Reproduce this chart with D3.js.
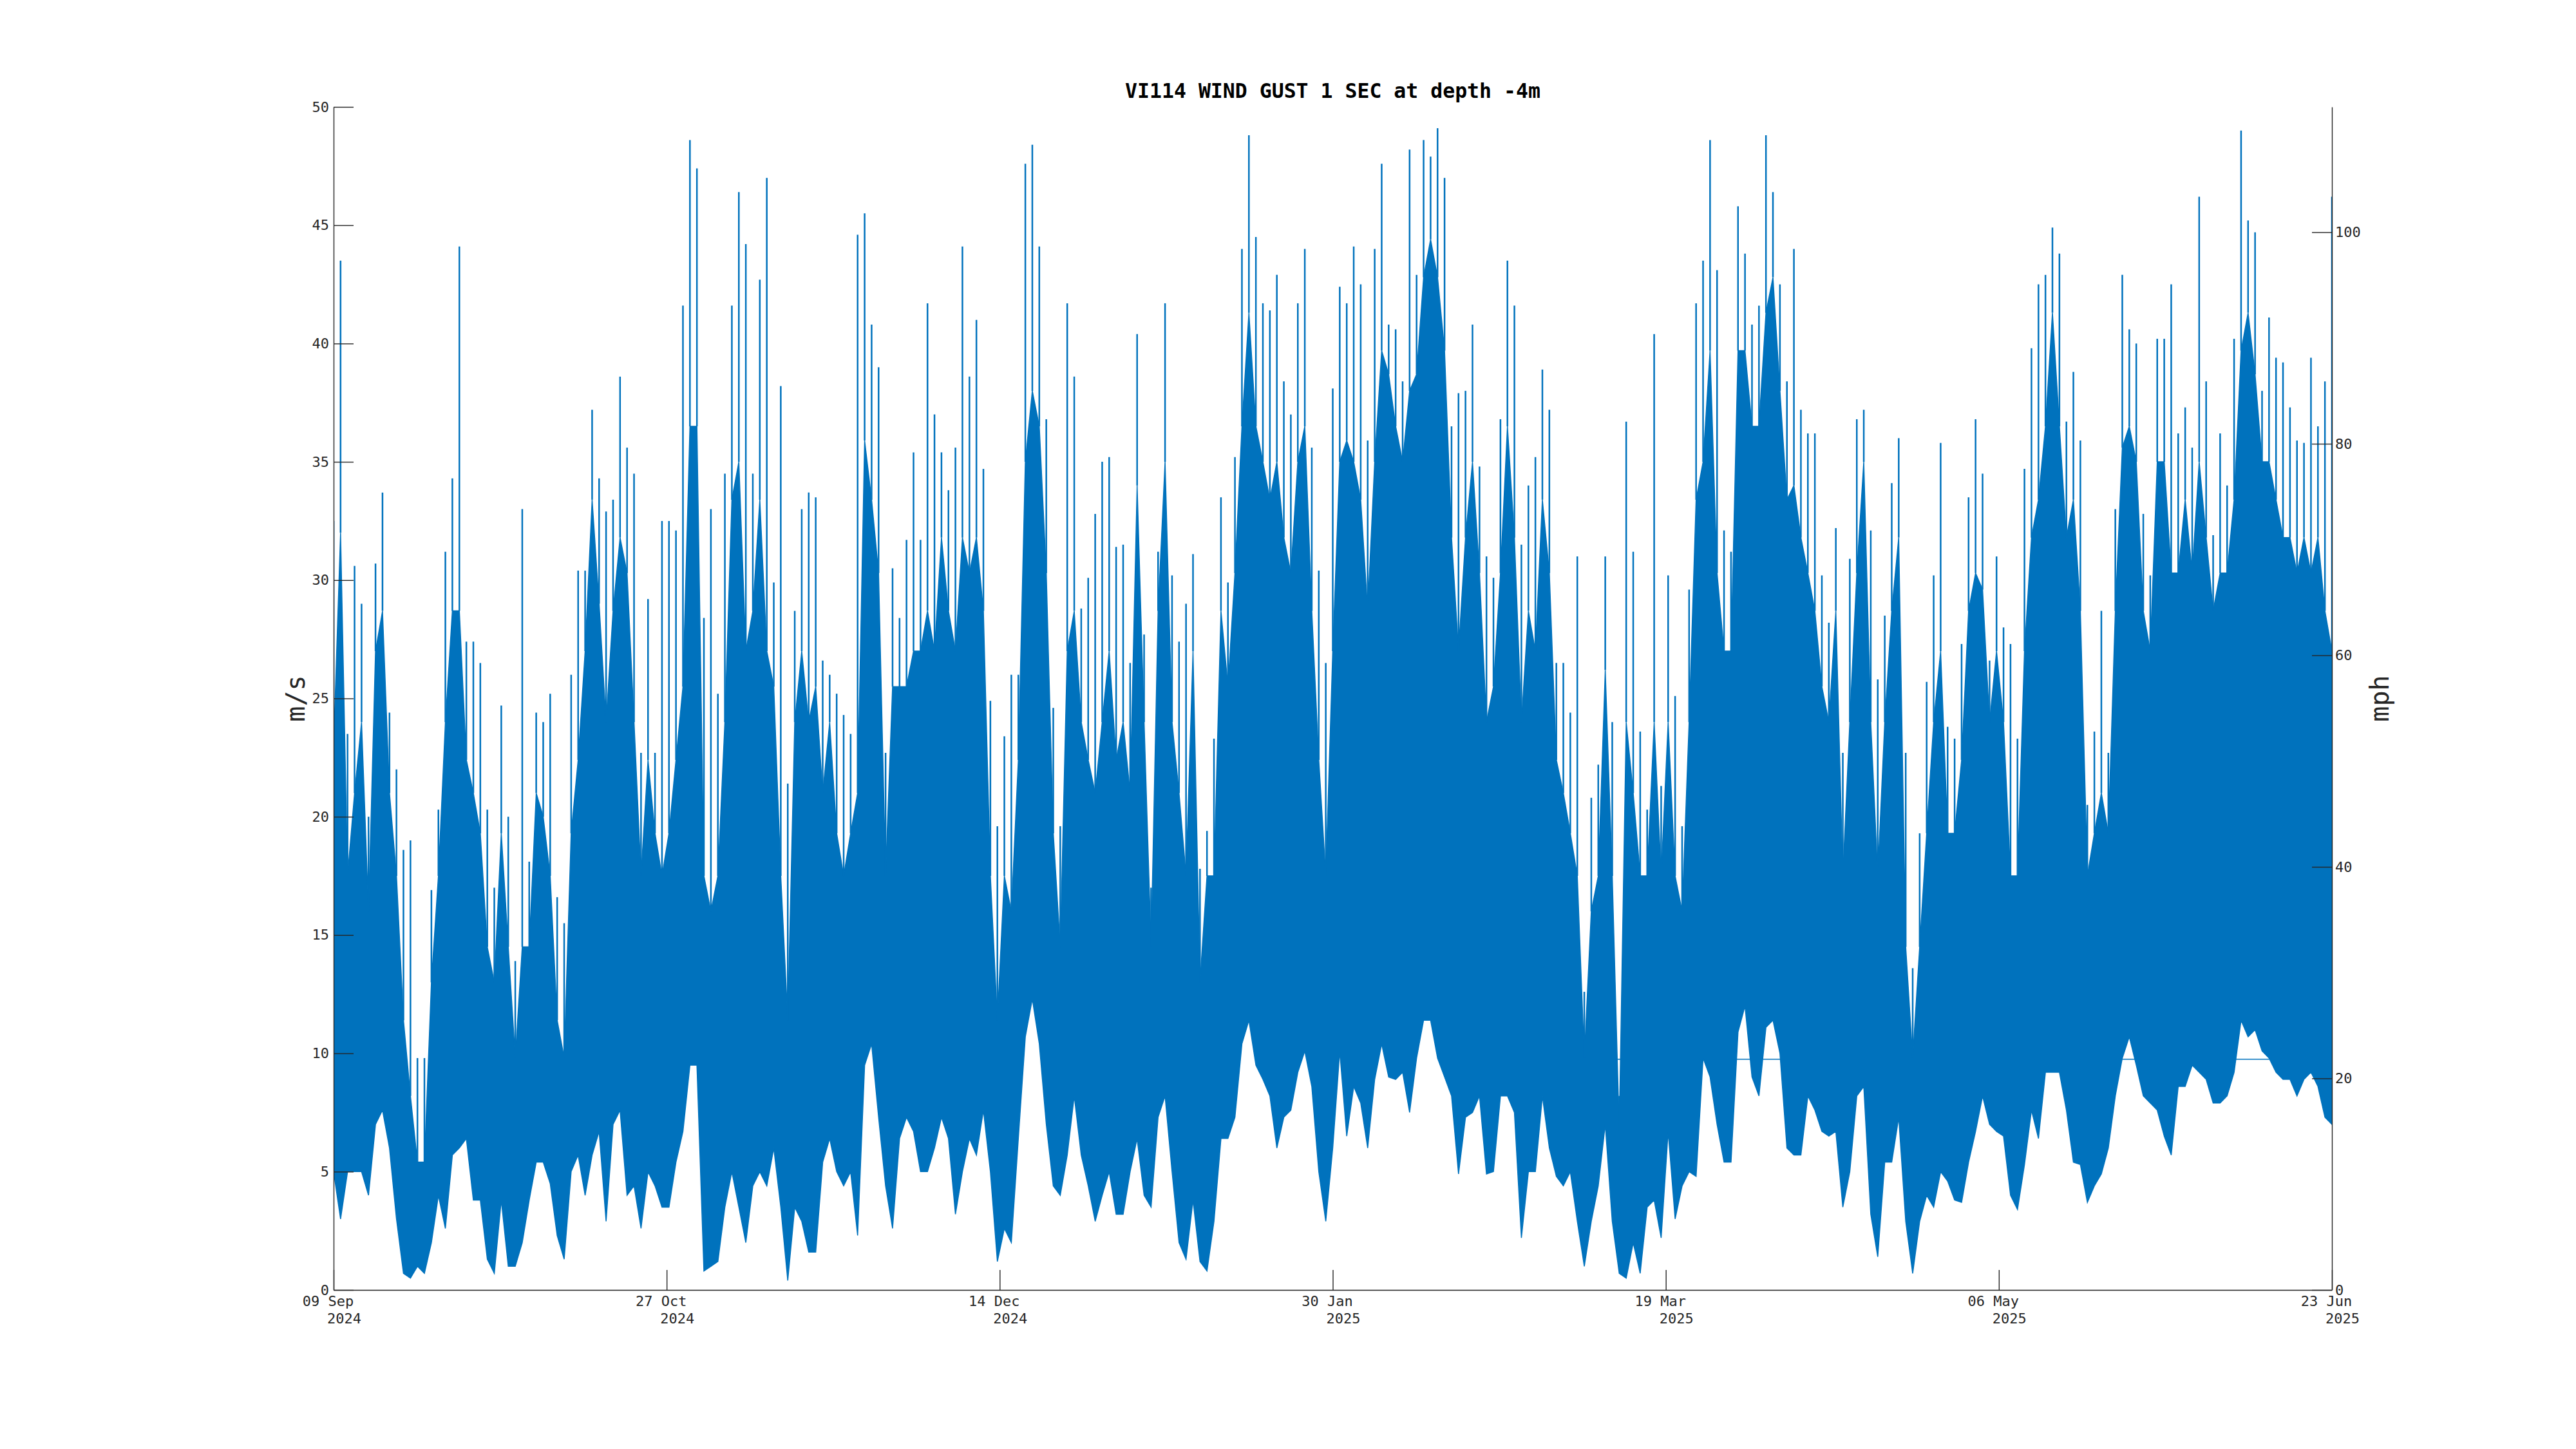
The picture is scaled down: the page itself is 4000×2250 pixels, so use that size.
<!DOCTYPE html>
<html>
<head>
<meta charset="utf-8">
<script src="https://cdn.jsdelivr.net/npm/d3@7/dist/d3.min.js"></script>
<style>
  html, body { margin: 0; padding: 0; background: #ffffff; }
  svg { display: block; }
</style>
</head>
<body>
<svg id="chart" width="4000" height="2250"></svg>
<script>
// ---------------- DATA ----------------
const titleText = "VI114 WIND GUST 1 SEC at depth -4m";
const leftLabel = "m/s";
const rightLabel = "mph";
const startDate = "2024-09-09";
const endDate = "2025-06-23";

// Daily peak gust (m/s), one value per day from 09 Sep 2024
const dailyMax = [
 32.5,43.5,23.5,30.6,29,20,30.7,33.7,24.4,22,18.6,19,9.8,9.8,16.9,20.3,31.2,34.3,44.1,27.4,
 27.4,26.5,20.3,17,24.7,20,13.9,33,18.1,24.4,24,25.2,16.6,15.5,26,30.4,30.4,37.2,34.3,32.9,
 33.4,38.6,35.6,34.5,22.7,29.2,22.7,32.5,32.5,32.1,41.6,48.6,47.4,28.4,33,25.2,34.5,41.6,46.4,44.2,
 34.5,42.7,47,29.9,38.2,21.4,28.7,33,33.7,33.5,26.6,26,25.2,24.3,23.5,44.6,45.5,40.8,39,22.7,
 30.5,28.4,31.7,35.4,31.7,41.7,37,35.4,33.8,35.6,44.1,38.6,41,34.7,24.9,19.6,23.4,26,26,47.6,
 48.4,44.1,36.8,24.6,19.6,41.7,38.6,28.8,30.1,32.8,35,35.2,31.4,31.5,26.5,40.4,27.7,17,31.2,41.7,
 30.2,27.4,29,31.1,17.8,19.4,23.3,33.5,29.9,35.2,44,48.8,44.5,41.7,41.4,42.9,38.4,37,41.7,44,
 35.6,30.4,26.5,38.1,42.4,41.7,44.1,42.5,35.9,44,47.6,40.8,40.6,38.4,48.2,42.9,48.6,47.9,49.1,47,
 36.5,37.9,38,40.8,34.8,31,30.1,36.8,43.5,41.6,31.5,34,35.2,38.9,37.2,26.5,26.5,24.4,31,12.6,
 20.8,22.2,31,24,8.2,36.7,31.2,23.6,20.3,40.4,21.3,30.2,25.1,19.6,29.6,41.7,43.5,48.6,43.1,32.1,
 31.2,45.8,43.8,40.8,41.6,48.8,46.4,42.5,38.4,44,37.2,36.2,36.2,30.2,28.2,32.2,22.7,30.9,36.8,37.2,
 32.1,25.8,28.5,34.1,36,22.7,13.6,19.3,25.7,30.2,35.8,23.8,23.3,27.3,33.5,36.8,34.5,26.6,31,28,
 27.3,23.3,34.7,39.8,42.5,42.9,44.9,43.8,36.7,38.8,35.9,20.5,23.6,28.7,22.7,33,42.9,40.6,40,32.8,
 30.2,40.2,40.2,42.5,36.2,37.3,35.6,46.2,38.4,31.9,36.2,34,40.2,49,45.2,44.7,38,41.1,39.4,39.2,
 37.3,35.9,35.8,39.4,36.5,38.4,46.2
];

// Daily top of the dense gust band (m/s)
const dailyBody = [
 23,32,17.5,21,24,16,27,28.7,21,17.5,11.4,8.2,5.4,5.4,13,17.5,24,28.7,28.7,22.4,
 21,19.3,14.5,13,19.3,14.5,9.8,14.5,14.5,21,20,17.5,11.4,9.8,19.3,22.4,27,33.4,29,24,
 28.7,31.8,30.3,24,17.5,22.4,19.3,17.5,19.3,22.4,25.5,36.5,36.5,17.5,16,17.5,24,33.4,35,27,
 28.7,33.4,27,25.5,17.5,11.4,24,27,24,25.5,21,24,19.3,17.5,19.3,21,35.9,33.4,30.3,17.5,
 25.5,25.5,25.5,27,27,28.7,27,31.8,28.7,27,31.8,30.3,31.8,28.7,17.5,11.4,17.5,16,22.4,35,
 38,36.5,30.3,19.3,14.5,27,28.7,24,22.4,21,24,27,22.4,24,21,34,24,14.5,28.7,35,
 24,21,17.5,27,13,17.5,17.5,28.7,25.5,30.3,36.5,41.3,36.5,35,33.4,35,31.8,30.3,35,36.5,
 28.7,22.4,17.5,27,35,35.9,35,33.4,28.7,35,39.7,38.7,36.5,35,38,38.7,42.8,44.4,42.8,39.7,
 31.8,27,31.8,35,30.3,24,25.5,30.3,36.5,31.8,24,28.7,27,33.4,30.3,22.4,21,19.3,17.5,9.8,
 16,17.5,26.2,17.5,6.7,24,21,17.5,17.5,24,17.5,24,17.5,16,24,33.4,35,39.7,30.3,27,
 27,39.7,39.7,36.5,36.5,41.3,42.8,38,33.4,34,31.8,30.3,28.7,25.5,24,28.7,17.5,24,30.3,35,
 24,17.5,24,28.7,31.8,14.5,9.8,14.5,19.3,24,27,19.3,19.3,22.4,28.7,30.3,29.6,24,27,24,
 17.5,17.5,27,31.8,33.4,36.5,41.3,36.5,31.8,33.4,28.7,17.5,19.3,21,19.3,28.7,35.6,36.5,35,28.7,
 27,35,35,30.3,30.3,33.4,30.3,35,31.8,28.7,30.3,30.3,33.4,39.7,41.3,38.7,35,35,33.4,31.8,
 31.8,30.3,31.8,30.3,31.8,28.7,27
];

// Daily lowest gust (m/s)
const dailyMin = [
 5,3,5,5,5,4,7,7.6,6,3,0.7,0.5,1,0.7,2,4,2.6,5.7,6,6.4,
 3.8,3.8,1.3,0.7,3.8,1,1,2,3.8,5.4,5.4,4.5,2.3,1.3,5,5.7,4,5.7,6.7,2.9,
 7,7.6,4,4.4,2.6,5,4.4,3.5,3.5,5.4,6.7,9.5,9.5,0.8,1,1.2,3.5,5,3.5,2,
 4.4,5,4.4,6,3.5,0.4,3.5,2.9,1.6,1.6,5.4,6.4,5,4.4,5,2.3,9.5,10.4,7.3,4.4,
 2.6,6.4,7.3,6.7,5,5,6,7.3,6.4,3.2,5,6.4,5.7,7.6,5,1.2,2.6,2,6.4,10.7,
 12.3,10.4,7,4.4,4,5.7,8.2,5.7,4.4,2.9,4,5,3.2,3.2,5,6.4,4,3.5,7.3,8.2,
 5,2,1.3,3.8,1.2,0.8,2.9,6.4,6.4,7.3,10.4,11.4,9.5,8.9,8.2,6,7.3,7.6,9.2,10.1,
 8.6,5,2.9,6,10.1,6.5,8.6,7.9,6,8.9,10.4,9,8.9,9.2,7.5,9.8,11.4,11.4,9.8,9,
 8.2,4.9,7.3,7.5,8.2,4.9,5,8.2,8.2,7.5,2.2,5,5,8.2,6,4.8,4.4,5,2.9,1,
 2.9,4.4,7,2.9,0.7,0.5,2,0.7,3.5,3.8,2.2,6.7,3,4.4,5,4.8,9.8,9,7,5.4,
 5.4,10.9,12,9,8.2,11.1,11.4,10,6,5.7,5.7,8.2,7.6,6.7,6.5,6.7,3.5,5,8.2,8.6,
 3.2,1.4,5.4,5.4,7.3,2.9,0.7,2.9,4,3.5,5,4.6,3.8,3.7,5.4,6.7,8.2,7,6.7,6.5,
 4,3.4,5.3,7.6,6.4,9.2,9.2,9.2,7.6,5.4,5.3,3.7,4.4,4.9,6,8.2,9.8,10.7,9.5,8.2,
 7.9,7.6,6.5,5.7,8.6,8.6,9.5,9.2,8.9,7.9,7.9,8.2,9.2,11.4,10.7,11,10.1,9.8,9.2,8.9,
 8.9,8.2,8.9,9.2,8.6,7.3,7
];

// Constant-value trace segment seen in the lower part of the plot
const flatLineStart = "2025-03-08";
const flatLineValue = 9.75;

const leftTicks = [0,5,10,15,20,25,30,35,40,45,50];
const rightTicks = [0,20,40,60,80,100];
const xTickTop = ["09 Sep","27 Oct","14 Dec","30 Jan","19 Mar","06 May","23 Jun"];
const xTickBottom = ["2024","2024","2024","2025","2025","2025","2025"];

// ---------------- CHART ----------------
const W = 4000, H = 2250;
const plot = { left: 518, right: 3621, top: 166, bottom: 2003 };
const mono = "'DejaVu Sans Mono', 'Liberation Mono', monospace";
const axisColor = "#262626";
const lineColor = "#0072BD";
const MS_TO_MPH = 2.2369363;

const svg = d3.select("#chart");
svg.append("rect").attr("width", W).attr("height", H).attr("fill", "#ffffff");

const t0 = new Date(startDate + "T00:00:00Z");
const t1 = new Date(endDate + "T00:00:00Z");
const x = d3.scaleUtc().domain([t0, t1]).range([plot.left, plot.right]);
const y = d3.scaleLinear().domain([0, 50]).range([plot.bottom, plot.top]);
const yR = d3.scaleLinear().domain([0, 50 * MS_TO_MPH]).range([plot.bottom, plot.top]);

const n = dailyMax.length;
const span = t1 - t0;
const records = dailyMax.map((v, i) => ({
  t: new Date(+t0 + span * i / (n - 1)),
  max: v,
  body: dailyBody[i],
  min: dailyMin[i]
}));

svg.append("clipPath").attr("id", "clip")
  .append("rect")
  .attr("x", plot.left).attr("y", plot.top)
  .attr("width", plot.right - plot.left).attr("height", plot.bottom - plot.top);

const dataG = svg.append("g").attr("clip-path", "url(#clip)");

// flat trace
dataG.append("line")
  .attr("x1", x(new Date(flatLineStart + "T00:00:00Z")))
  .attr("x2", x(t1))
  .attr("y1", y(flatLineValue)).attr("y2", y(flatLineValue))
  .attr("stroke", lineColor).attr("stroke-width", 1.6);

// dense band
const area = d3.area()
  .x(d => x(d.t))
  .y0(d => y(d.min))
  .y1(d => y(d.body))
  .curve(d3.curveLinear);
dataG.append("path").datum(records)
  .attr("d", area)
  .attr("fill", lineColor)
  .attr("stroke", lineColor)
  .attr("stroke-width", 1.5);

// peak spikes
dataG.selectAll("line.spike").data(records).join("line")
  .attr("class", "spike")
  .attr("x1", d => x(d.t)).attr("x2", d => x(d.t))
  .attr("y1", d => y(d.body)).attr("y2", d => y(d.max))
  .attr("stroke", lineColor).attr("stroke-width", 2.5);

// ---------- axes ----------
function styleAxis(g) {
  g.selectAll("path.domain").attr("stroke", axisColor).attr("stroke-width", 1.4);
  g.selectAll(".tick line").attr("stroke", axisColor).attr("stroke-width", 1.4);
  g.selectAll(".tick text")
    .attr("fill", axisColor)
    .style("font-family", mono)
    .style("font-size", "22px");
}

const gLeft = svg.append("g")
  .attr("transform", `translate(${plot.left},0)`)
  .call(d3.axisLeft(y).tickValues(leftTicks).tickSizeInner(-31).tickSizeOuter(0).tickPadding(7)
        .tickFormat(d3.format("d")));
styleAxis(gLeft);

const gRight = svg.append("g")
  .attr("transform", `translate(${plot.right},0)`)
  .call(d3.axisRight(yR).tickValues(rightTicks).tickSizeInner(-31).tickSizeOuter(0).tickPadding(5)
        .tickFormat(d3.format("d")));
styleAxis(gRight);

const tickDates = d3.range(xTickTop.length).map(i => new Date(+t0 + span * i / (xTickTop.length - 1)));
const gBottom = svg.append("g")
  .attr("transform", `translate(0,${plot.bottom})`)
  .call(d3.axisBottom(x).tickValues(tickDates).tickSizeInner(-31).tickSizeOuter(0).tickFormat(() => ""));
styleAxis(gBottom);
gBottom.selectAll(".tick text").remove();

gBottom.selectAll(".tick").each(function(d, i) {
  const g = d3.select(this);
  g.append("text")
    .attr("x", -9).attr("y", 25)
    .attr("text-anchor", "middle")
    .attr("fill", axisColor)
    .style("font-family", mono).style("font-size", "22px")
    .text(xTickTop[i]);
  g.append("text")
    .attr("x", 16).attr("y", 52)
    .attr("text-anchor", "middle")
    .attr("fill", axisColor)
    .style("font-family", mono).style("font-size", "22px")
    .text(xTickBottom[i]);
});

// ---------- title & labels ----------
svg.append("text")
  .attr("x", (plot.left + plot.right) / 2).attr("y", 152)
  .attr("text-anchor", "middle")
  .attr("fill", "#000000")
  .style("font-family", mono).style("font-size", "31.5px").style("font-weight", "bold")
  .text(titleText);

const midY = (plot.top + plot.bottom) / 2;
svg.append("text")
  .attr("transform", `translate(459,${midY}) rotate(-90)`)
  .attr("text-anchor", "middle").attr("dominant-baseline", "central")
  .attr("fill", axisColor)
  .style("font-family", mono).style("font-size", "40px")
  .text(leftLabel);

svg.append("text")
  .attr("transform", `translate(3695,${midY}) rotate(-90)`)
  .attr("text-anchor", "middle").attr("dominant-baseline", "central")
  .attr("fill", axisColor)
  .style("font-family", mono).style("font-size", "40px")
  .text(rightLabel);
</script>
</body>
</html>
